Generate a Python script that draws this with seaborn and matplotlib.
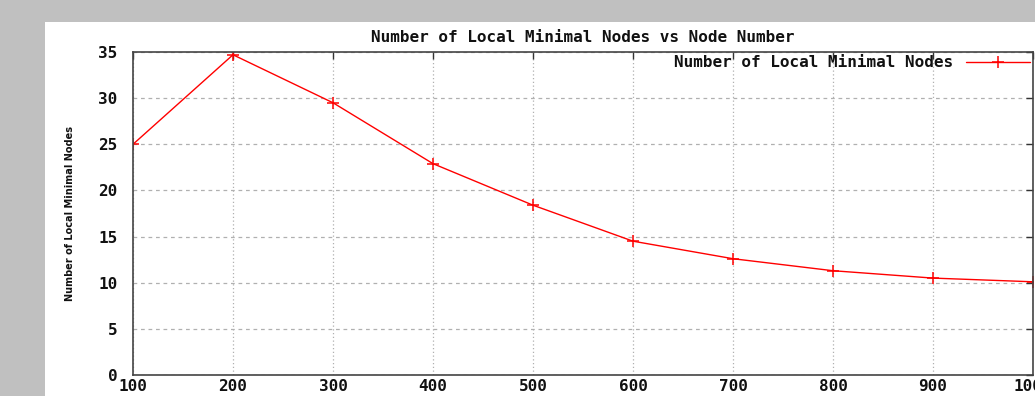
import matplotlib
matplotlib.use("Agg")
import matplotlib.pyplot as plt
from matplotlib.patches import Rectangle
import seaborn as sns
import pandas as pd

node_number = [100, 200, 300, 400, 500, 600, 700, 800, 900, 1000]
local_minimal = [25.0, 34.7, 29.5, 22.9, 18.4, 14.5, 12.6, 11.3, 10.5, 10.1]
series_name = "Number of Local Minimal Nodes"
title = "Number of Local Minimal Nodes vs Node Number"
x_ticks = [100, 200, 300, 400, 500, 600, 700, 800, 900, 1000]
y_ticks = [0, 5, 10, 15, 20, 25, 30, 35]

df = pd.DataFrame({"x": node_number, "y": local_minimal, "s": series_name})

sns.set_theme(style="white")
mono = {"family": "DejaVu Sans Mono", "weight": "bold", "color": "#111111"}
FS = 11.5

W, H = 1035, 396
fig = plt.figure(figsize=(W / 100, H / 100), dpi=100, facecolor="#c0c0c0")
fig.patches.append(Rectangle((45 / W, 0), 1 - 45 / W, (H - 22) / H,
                             transform=fig.transFigure, facecolor="white",
                             edgecolor="none", zorder=-10))
ax = fig.add_axes([133 / W, (H - 375) / H, 900 / W, 323 / H])
ax.set_zorder(1)
ax.set_facecolor("white")

sns.lineplot(data=df, x="x", y="y", hue="s", palette=["#ff0000"], marker="+",
             markersize=8, markeredgewidth=1.1, markeredgecolor="#ff0000",
             linewidth=1.0, ax=ax)

ax.set_xlim(100, 1000)
ax.set_ylim(0, 35)
ax.set_xticks(x_ticks)
ax.set_yticks(y_ticks)
ax.set_xticklabels([str(v) for v in x_ticks], fontdict=mono, fontsize=FS)
ax.set_yticklabels([str(v) for v in y_ticks], fontdict=mono, fontsize=FS)
ax.tick_params(axis="both", direction="in", length=5, width=1, color="#333333",
               top=True, right=True)
ax.tick_params(axis="y", pad=11)
ax.tick_params(axis="x", pad=3)

ax.yaxis.grid(True, linestyle=(0, (3, 3)), color="#b0b0b0", linewidth=0.9)
ax.xaxis.grid(True, linestyle=(0, (1, 2)), color="#b0b0b0", linewidth=0.9)
for side in ["left", "bottom", "top", "right"]:
    ax.spines[side].set_color("#444444")
    ax.spines[side].set_linewidth(1.2)

ax.set_xlabel("")
ax.set_ylabel("Number of Local Minimal Nodes", fontsize=7.8, fontstretch="condensed",
              family="DejaVu Sans", weight="bold", color="#111111", labelpad=17)
ax.set_title(title, fontdict=mono, fontsize=FS, pad=7)

leg = ax.legend(loc="upper right", frameon=False, markerfirst=False,
                handlelength=4.0, prop={"family": "DejaVu Sans Mono", "weight": "bold", "size": FS},
                borderaxespad=0.0, borderpad=0.2, handletextpad=0.8)
for t in leg.get_texts():
    t.set_color("#111111")

fig.savefig("out.png", dpi=100, facecolor=fig.get_facecolor())
